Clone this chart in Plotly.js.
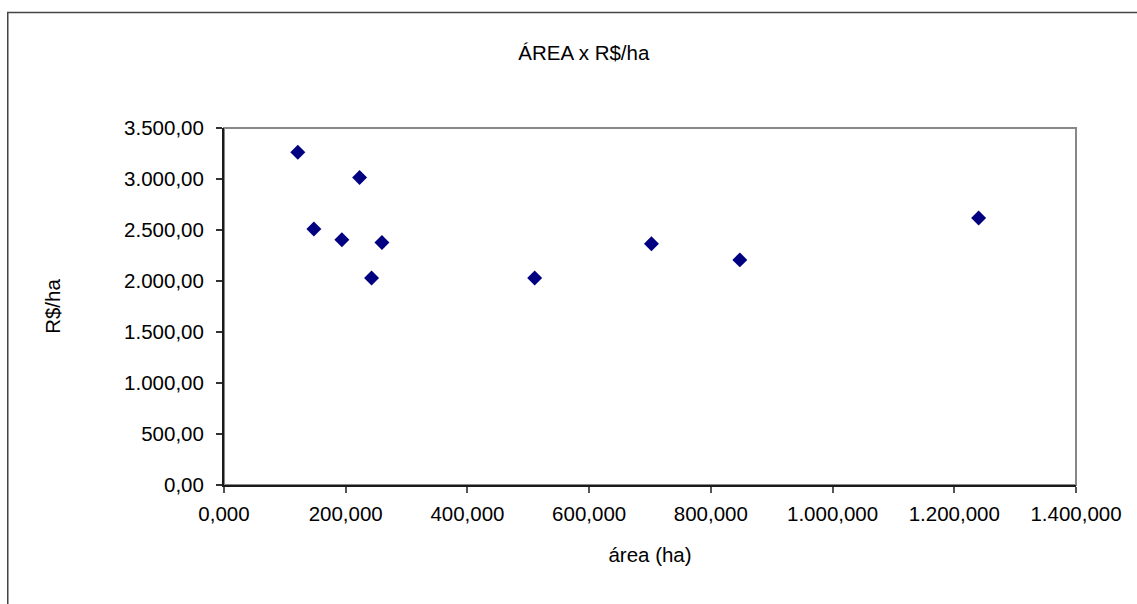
<!DOCTYPE html>
<html>
<head>
<meta charset="utf-8">
<script src="https://cdn.plot.ly/plotly-3.0.1.min.js"></script>
<style>
  html, body { margin: 0; padding: 0; background: #fff; }
  #chart { width: 1137px; height: 604px; }
</style>
</head>
<body>
<div id="chart"></div>
<script>
// Área (ha) and price per hectare (R$/ha) for each property
const areaHa = [121.3, 147.7, 193.7, 222.8, 242.5, 259.5, 510.5, 702.4, 847.6, 1240.0];
const precoHa = [3262, 2509, 2404, 3014, 2030, 2378, 2030, 2365, 2207, 2617];

const chartTitle = 'ÁREA x R$/ha';
const xTitle = 'área (ha)';
const yTitle = 'R$/ha';

const font = { family: '"Liberation Sans", Arial, sans-serif', size: 20.5, color: '#000' };

const trace = {
  type: 'scatter',
  mode: 'markers',
  x: areaHa,
  y: precoHa,
  marker: { symbol: 'diamond', size: 11.5, color: '#000080', line: { width: 0 } },
  hoverinfo: 'x+y',
  showlegend: false
};

const layout = {
  width: 1137,
  height: 604,
  margin: { l: 224, r: 61, t: 128, b: 119 },
  paper_bgcolor: '#fff',
  plot_bgcolor: '#fff',
  separators: ',.',
  font: font,
  title: {
    text: chartTitle,
    font: font,
    xref: 'container', x: 0.5135, xanchor: 'center',
    yref: 'container', y: 0.913, yanchor: 'middle'
  },
  xaxis: {
    range: [0, 1400],
    dtick: 200,
    tick0: 0,
    tickformat: ',.3f',
    showgrid: false,
    zeroline: false,
    showline: true,
    linecolor: '#1a1a1a',
    linewidth: 2,
    ticks: 'outside',
    ticklen: 6,
    tickwidth: 1.5,
    tickcolor: '#555',
    ticklabelstandoff: 3,
    tickfont: font,
    title: { text: xTitle, font: font, standoff: 24 },
    fixedrange: true
  },
  yaxis: {
    range: [0, 3500],
    dtick: 500,
    tick0: 0,
    tickformat: ',.2f',
    showgrid: false,
    zeroline: false,
    showline: true,
    linecolor: '#1a1a1a',
    linewidth: 2,
    ticks: 'outside',
    ticklen: 6,
    tickwidth: 1.5,
    tickcolor: '#333',
    ticklabelstandoff: 8,
    tickfont: font,
    title: { text: yTitle, font: font, standoff: 58 },
    fixedrange: true
  },
  shapes: [
    // plot area frame
    { type: 'rect', xref: 'paper', yref: 'paper', x0: 0, x1: 1, y0: 0, y1: 1,
      line: { color: '#878787', width: 2 }, layer: 'below' },
    // chart area frame
    { type: 'rect', xref: 'paper', yref: 'paper', x0: -0.2538, x1: 1.2, y0: -0.5, y1: 1.3235,
      line: { color: '#444', width: 1.5 }, layer: 'below' }
  ]
};

Plotly.newPlot('chart', [trace], layout, { displayModeBar: false });
</script>
</body>
</html>
